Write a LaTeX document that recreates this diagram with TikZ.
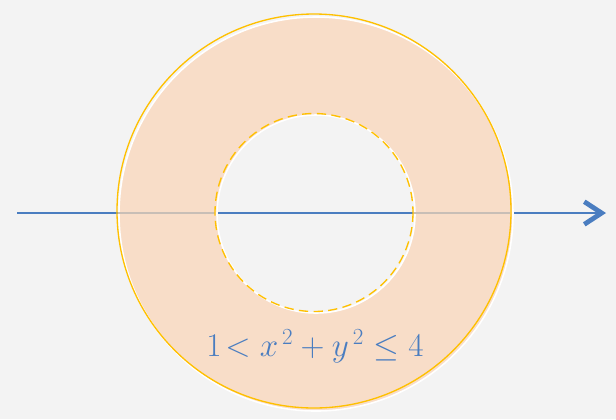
\documentclass[tikz,border=0pt]{standalone}
\usepackage{amsmath,amssymb}
\usepackage{tikz}
\usetikzlibrary{arrows.meta,positioning,calc}
\definecolor{bgray}{RGB}{243,243,243}
\definecolor{peach}{RGB}{248,221,200}
\definecolor{gold}{RGB}{255,192,0}
\definecolor{axisblue}{RGB}{74,125,192}
\definecolor{axisgray}{RGB}{200,190,182}

\begin{document}
\begin{tikzpicture}[x=0.75pt, y=-0.75pt]
    % background
    \fill[bgray] (0,0) rectangle (616,419);
    \useasboundingbox (0,0) rectangle (616,419);

    % x axis
    \coordinate (start) at (17,213);
    \coordinate (end) at (606,213);
    \draw[axisblue, line width=1.6pt, -{Straight Barb[length=13pt, width=17pt, line width=3.6pt]}] (start) -- (end);

    % annulus
    \fill[peach, draw=white, line width=1.2pt, even odd rule] (316,214) circle (197) (316,214) circle (99);
    \draw[axisgray, line width=1.6pt] (118,213) -- (215,213);
    \draw[axisgray, line width=1.6pt] (413,213) -- (510,213);
    \draw[gold, line width=1pt] (314,211) circle (197);
    \draw[gold, line width=1pt, dash pattern=on 7pt off 4pt] (314,212.5) circle (99);

    % region label
    \node[axisblue] (region) at (315,346) {\fontsize{25}{28}\selectfont $1\!<x^{\,2}+y^{\,2}\leq 4$};
\end{tikzpicture}
\end{document}
